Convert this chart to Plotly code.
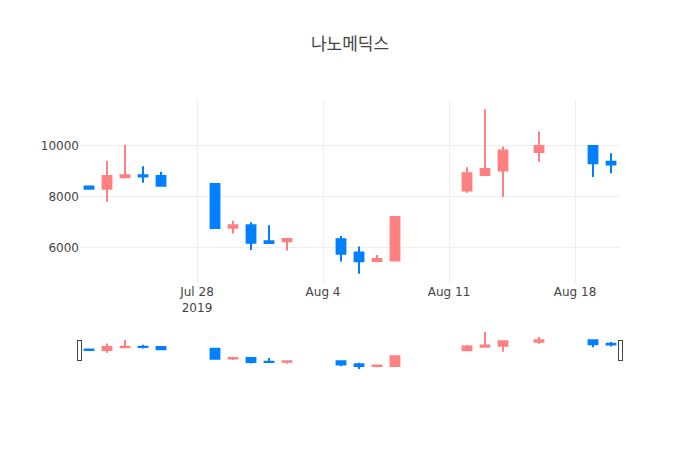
import plotly.graph_objects as go

title = '나노메딕스'

dates = ['2019-07-22', '2019-07-23', '2019-07-24', '2019-07-25', '2019-07-26',
         '2019-07-29', '2019-07-30', '2019-07-31', '2019-08-01', '2019-08-02',
         '2019-08-05', '2019-08-06', '2019-08-07', '2019-08-08',
         '2019-08-12', '2019-08-13', '2019-08-14', '2019-08-16',
         '2019-08-19', '2019-08-20']

opens  = [8400, 8310, 8770, 8850, 8820, 8500, 6780, 6880, 6240, 6240,
          6320, 5800, 5470, 5490, 8240, 8860, 9030, 9760, 10000, 9380]
highs  = [8430, 9420, 10050, 9200, 8980, 8500, 7050, 6990, 6880, 6350,
          6450, 6040, 5700, 7200, 9160, 11450, 9980, 10570, 10000, 9710]
lows   = [8290, 7800, 8720, 8550, 8400, 6770, 6550, 5900, 6170, 5880,
          5450, 4960, 5420, 5490, 8160, 8850, 8000, 9380, 8780, 8920]
closes = [8310, 8820, 8850, 8800, 8430, 6770, 6880, 6190, 6180, 6330,
          5750, 5460, 5550, 7200, 8920, 9090, 9820, 10000, 9320, 9270]

fig = go.Figure()

fig.add_trace(go.Candlestick(
    x=dates, open=opens, high=highs, low=lows, close=closes,
    increasing=dict(line=dict(color='#ff8080'), fillcolor='#ff8080'),
    decreasing=dict(line=dict(color='#0080ff'), fillcolor='#0080ff'),
    showlegend=False))

fig.update_layout(
    template='none',
    title=dict(text=title, x=0.5,
               font=dict(family='Noto Sans CJK KR, DejaVu Sans', size=17, color='#444')),
    width=700, height=450,
    font=dict(family='DejaVu Sans', size=12, color='#444'),
    paper_bgcolor='white', plot_bgcolor='white',
    margin=dict(l=80, r=80, t=100, b=80),
)
fig.update_xaxes(showgrid=True, gridcolor='#eee', rangeslider=dict(visible=True))
fig.update_yaxes(showgrid=True, gridcolor='#eee', tickformat='d', zeroline=False)

# page margin off so the figure sits at the top-left corner
fig.write_html("out.html", config={'displayModeBar': False},
               post_script="document.body.style.margin='0';")
